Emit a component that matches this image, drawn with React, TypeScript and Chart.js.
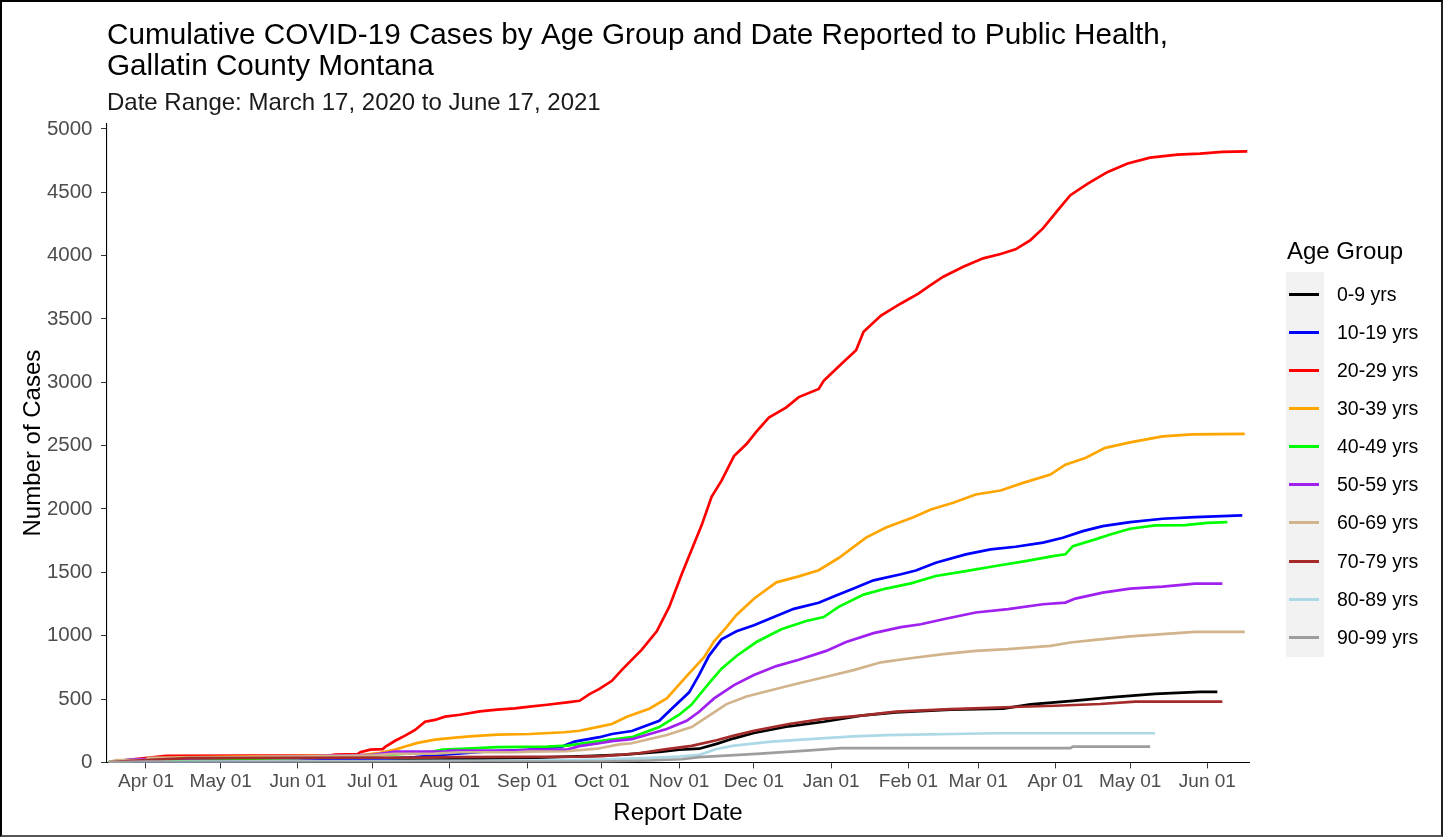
import React, { useEffect, useRef } from 'react';
import { Chart, registerables } from 'chart.js';

Chart.register(...registerables);

const FONT = '"Liberation Sans", Arial, Helvetica, sans-serif';

const TITLE_LINES = [
  'Cumulative COVID-19 Cases by Age Group and Date Reported to Public Health,',
  'Gallatin County Montana',
];
const SUBTITLE = 'Date Range: March 17, 2020 to June 17, 2021';
const X_TITLE = 'Report Date';
const Y_TITLE = 'Number of Cases';
const LEGEND_TITLE = 'Age Group';

const START_DATE = '2020-03-17';

const AGE_GROUPS = [
  '0-9 yrs', '10-19 yrs', '20-29 yrs', '30-39 yrs', '40-49 yrs',
  '50-59 yrs', '60-69 yrs', '70-79 yrs', '80-89 yrs', '90-99 yrs',
];
const COLORS = [
  '#000000', '#0000FF', '#FF0000', '#FFA500', '#00FF00',
  '#A020F0', '#D2B48C', '#A52A2A', '#ADD8E6', '#9E9E9E',
];

const X_TICK_DATES = [
  '2020-04-01', '2020-05-01', '2020-06-01', '2020-07-01', '2020-08-01',
  '2020-09-01', '2020-10-01', '2020-11-01', '2020-12-01', '2021-01-01',
  '2021-02-01', '2021-03-01', '2021-04-01', '2021-05-01', '2021-06-01',
];
const X_TICK_LABELS = [
  'Apr 01', 'May 01', 'Jun 01', 'Jul 01', 'Aug 01', 'Sep 01', 'Oct 01',
  'Nov 01', 'Dec 01', 'Jan 01', 'Feb 01', 'Mar 01', 'Apr 01', 'May 01', 'Jun 01',
];
const Y_TICKS = [0, 500, 1000, 1500, 2000, 2500, 3000, 3500, 4000, 4500, 5000];

type Pt = [string, number];

const AGE_0_9: Pt[] = [
  ['2020-03-17', 0], ['2020-04-15', 3], ['2020-05-15', 6], ['2020-07-01', 15], ['2020-08-01', 25],
  ['2020-09-01', 35], ['2020-09-25', 50], ['2020-10-10', 62], ['2020-10-25', 85], ['2020-11-01', 100],
  ['2020-11-09', 108], ['2020-11-16', 146], ['2020-11-23', 190], ['2020-12-01', 232], ['2020-12-15', 285],
  ['2020-12-29', 321], ['2021-01-13', 369], ['2021-01-27', 395], ['2021-02-18', 416], ['2021-03-11', 425],
  ['2021-03-22', 458], ['2021-04-08', 485], ['2021-04-23', 513], ['2021-05-11', 541], ['2021-05-29', 557],
  ['2021-06-05', 557],
];

const AGE_10_19: Pt[] = [
  ['2020-03-17', 0], ['2020-04-01', 3], ['2020-05-01', 8], ['2020-06-01', 12], ['2020-07-01', 25],
  ['2020-07-18', 42], ['2020-08-01', 65], ['2020-08-15', 85], ['2020-09-01', 100], ['2020-09-15', 125],
  ['2020-09-20', 164], ['2020-09-30', 199], ['2020-10-05', 224], ['2020-10-13', 248], ['2020-10-24', 328],
  ['2020-10-29', 424], ['2020-11-05', 553], ['2020-11-09', 690], ['2020-11-13', 843], ['2020-11-18', 971],
  ['2020-11-24', 1035], ['2020-12-01', 1083], ['2020-12-09', 1147], ['2020-12-17', 1212], ['2020-12-27', 1260],
  ['2021-01-02', 1309], ['2021-01-10', 1372], ['2021-01-18', 1437], ['2021-01-29', 1485], ['2021-02-04', 1515],
  ['2021-02-12', 1576], ['2021-02-24', 1642], ['2021-03-06', 1681], ['2021-03-16', 1702], ['2021-03-27', 1734],
  ['2021-04-04', 1773], ['2021-04-12', 1825], ['2021-04-20', 1865], ['2021-05-01', 1896], ['2021-05-14', 1923],
  ['2021-05-27', 1935], ['2021-06-15', 1949],
];

const AGE_20_29: Pt[] = [
  ['2020-03-17', 0], ['2020-03-27', 25], ['2020-04-09', 52], ['2020-06-14', 55], ['2020-06-16', 62],
  ['2020-06-25', 65], ['2020-06-26', 80], ['2020-06-30', 101], ['2020-07-05', 105], ['2020-07-06', 122],
  ['2020-07-10', 171], ['2020-07-14', 211], ['2020-07-18', 256], ['2020-07-22', 321], ['2020-07-26', 335],
  ['2020-07-30', 361], ['2020-08-05', 376], ['2020-08-13', 403], ['2020-08-20', 416], ['2020-08-27', 427],
  ['2020-09-02', 440], ['2020-09-09', 455], ['2020-09-17', 474], ['2020-09-22', 486], ['2020-09-26', 539],
  ['2020-09-30', 580], ['2020-10-05', 644], ['2020-10-09', 730], ['2020-10-17', 890], ['2020-10-23', 1035],
  ['2020-10-28', 1227], ['2020-11-02', 1485], ['2020-11-06', 1678], ['2020-11-10', 1871], ['2020-11-14', 2096],
  ['2020-11-18', 2224], ['2020-11-23', 2417], ['2020-11-28', 2513], ['2020-12-02', 2610], ['2020-12-07', 2722],
  ['2020-12-14', 2802], ['2020-12-19', 2883], ['2020-12-27', 2947], ['2020-12-29', 3011], ['2021-01-04', 3124],
  ['2021-01-11', 3253], ['2021-01-14', 3398], ['2021-01-21', 3526], ['2021-01-29', 3622], ['2021-02-05', 3700],
  ['2021-02-09', 3755], ['2021-02-15', 3833], ['2021-02-23', 3912], ['2021-03-03', 3978], ['2021-03-10', 4012],
  ['2021-03-16', 4049], ['2021-03-22', 4122], ['2021-03-27', 4214], ['2021-04-02', 4358], ['2021-04-07', 4476],
  ['2021-04-14', 4568], ['2021-04-22', 4660], ['2021-04-30', 4726], ['2021-05-09', 4773], ['2021-05-20', 4797],
  ['2021-05-29', 4805], ['2021-06-07', 4818], ['2021-06-17', 4822],
];

const AGE_30_39: Pt[] = [
  ['2020-03-17', 0], ['2020-04-01', 20], ['2020-04-15', 40], ['2020-06-01', 50], ['2020-06-25', 54],
  ['2020-07-04', 75], ['2020-07-10', 101], ['2020-07-14', 125], ['2020-07-19', 154], ['2020-07-26', 180],
  ['2020-08-02', 193], ['2020-08-09', 206], ['2020-08-20', 219], ['2020-09-02', 224], ['2020-09-16', 238],
  ['2020-09-22', 250], ['2020-09-30', 282], ['2020-10-05', 303], ['2020-10-11', 360], ['2020-10-20', 424],
  ['2020-10-27', 505], ['2020-11-04', 681], ['2020-11-11', 830], ['2020-11-15', 955], ['2020-11-20', 1067],
  ['2020-11-24', 1164], ['2020-12-01', 1292], ['2020-12-10', 1421], ['2020-12-19', 1468], ['2020-12-27', 1517],
  ['2021-01-04', 1613], ['2021-01-15', 1774], ['2021-01-23', 1854], ['2021-02-03', 1935], ['2021-02-10', 1996],
  ['2021-02-19', 2049], ['2021-02-28', 2114], ['2021-03-10', 2146], ['2021-03-19', 2206], ['2021-03-30', 2272],
  ['2021-04-05', 2350], ['2021-04-13', 2403], ['2021-04-21', 2482], ['2021-05-01', 2526], ['2021-05-14', 2573],
  ['2021-05-26', 2589], ['2021-06-16', 2592],
];

const AGE_40_49: Pt[] = [
  ['2020-03-17', 5], ['2020-03-20', 8], ['2020-04-01', 15], ['2020-06-01', 35], ['2020-06-27', 53],
  ['2020-07-10', 63], ['2020-07-25', 85], ['2020-07-29', 101], ['2020-08-10', 110], ['2020-08-20', 120],
  ['2020-09-09', 125], ['2020-09-17', 132], ['2020-09-30', 168], ['2020-10-13', 199], ['2020-10-24', 279],
  ['2020-11-01', 376], ['2020-11-06', 457], ['2020-11-09', 530], ['2020-11-13', 625], ['2020-11-18', 740],
  ['2020-11-24', 840], ['2020-12-02', 950], ['2020-12-12', 1051], ['2020-12-22', 1116], ['2020-12-29', 1147],
  ['2021-01-04', 1228], ['2021-01-14', 1324], ['2021-01-23', 1372], ['2021-02-02', 1413], ['2021-02-12', 1471],
  ['2021-02-24', 1510], ['2021-03-08', 1550], ['2021-03-20', 1589], ['2021-03-31', 1628], ['2021-04-05', 1642],
  ['2021-04-08', 1707], ['2021-04-17', 1760], ['2021-04-23', 1799], ['2021-05-01', 1844], ['2021-05-11', 1870],
  ['2021-05-23', 1873], ['2021-06-01', 1891], ['2021-06-09', 1896],
];

const AGE_50_59: Pt[] = [
  ['2020-03-17', 0], ['2020-03-26', 24], ['2020-05-01', 35], ['2020-06-01', 45], ['2020-07-01', 60],
  ['2020-07-10', 85], ['2020-07-30', 85], ['2020-08-01', 93], ['2020-08-27', 93], ['2020-09-02', 101],
  ['2020-09-17', 101], ['2020-09-22', 128], ['2020-09-30', 151], ['2020-10-05', 168], ['2020-10-13', 183],
  ['2020-10-27', 264], ['2020-11-04', 328], ['2020-11-09', 400], ['2020-11-15', 505], ['2020-11-23', 610],
  ['2020-12-01', 690], ['2020-12-10', 760], ['2020-12-19', 810], ['2020-12-30', 880], ['2021-01-07', 950],
  ['2021-01-18', 1020], ['2021-01-29', 1067], ['2021-02-06', 1090], ['2021-02-15', 1130], ['2021-02-28', 1183],
  ['2021-03-13', 1209], ['2021-03-27', 1248], ['2021-04-05', 1261], ['2021-04-09', 1293], ['2021-04-20', 1340],
  ['2021-05-01', 1372], ['2021-05-14', 1387], ['2021-05-27', 1411], ['2021-06-07', 1411],
];

const AGE_60_69: Pt[] = [
  ['2020-03-17', 0], ['2020-03-20', 18], ['2020-04-01', 18], ['2020-04-02', 35], ['2020-06-01', 45],
  ['2020-07-01', 55], ['2020-07-10', 67], ['2020-07-26', 70], ['2020-08-05', 80], ['2020-08-27', 80],
  ['2020-09-02', 85], ['2020-09-17', 88], ['2020-09-29', 108], ['2020-10-08', 142], ['2020-10-13', 151],
  ['2020-10-27', 216], ['2020-11-06', 279], ['2020-11-13', 370], ['2020-11-20', 460], ['2020-11-28', 520],
  ['2020-12-09', 575], ['2020-12-19', 625], ['2020-12-30', 676], ['2021-01-10', 728], ['2021-01-21', 790],
  ['2021-02-01', 820], ['2021-02-15', 854], ['2021-02-28', 880], ['2021-03-13', 894], ['2021-03-30', 920],
  ['2021-04-07', 946], ['2021-04-17', 967], ['2021-05-01', 994], ['2021-05-14', 1012], ['2021-05-27', 1030],
  ['2021-06-16', 1030],
];

const AGE_70_79: Pt[] = [
  ['2020-03-17', 0], ['2020-03-26', 12], ['2020-04-18', 33], ['2020-07-20', 38], ['2020-08-01', 41],
  ['2020-09-22', 45], ['2020-10-01', 50], ['2020-10-15', 70], ['2020-10-27', 105], ['2020-11-06', 130],
  ['2020-11-16', 175], ['2020-11-23', 211], ['2020-12-01', 250], ['2020-12-15', 303], ['2020-12-29', 343],
  ['2021-01-13', 369], ['2021-01-27', 400], ['2021-02-18', 421], ['2021-03-18', 439], ['2021-04-01', 447],
  ['2021-04-19', 461], ['2021-05-03', 479], ['2021-06-07', 479],
];

const AGE_80_89: Pt[] = [
  ['2020-03-17', 0], ['2020-04-01', 5], ['2020-05-15', 8], ['2020-07-01', 10], ['2020-09-01', 15],
  ['2020-09-30', 23], ['2020-10-20', 35], ['2020-11-01', 45], ['2020-11-09', 59], ['2020-11-16', 106],
  ['2020-11-23', 132], ['2020-12-08', 164], ['2020-12-28', 190], ['2021-01-10', 206], ['2021-01-23', 216],
  ['2021-03-08', 230], ['2021-05-11', 230],
];

const AGE_90_99: Pt[] = [
  ['2020-03-17', 0], ['2020-04-15', 2], ['2020-07-01', 4], ['2020-09-30', 6], ['2020-10-20', 15],
  ['2020-11-02', 25], ['2020-11-09', 41], ['2020-12-02', 67], ['2020-12-22', 93], ['2021-01-05', 112],
  ['2021-04-07', 112], ['2021-04-08', 124], ['2021-05-09', 124],
];

const SERIES: Pt[][] = [
  AGE_0_9, AGE_10_19, AGE_20_29, AGE_30_39, AGE_40_49,
  AGE_50_59, AGE_60_69, AGE_70_79, AGE_80_89, AGE_90_99,
];

function dayIndex(s: string): number {
  const [y, m, d] = s.split('-').map(Number);
  const [y0, m0, d0] = START_DATE.split('-').map(Number);
  return (Date.UTC(y, m - 1, d) - Date.UTC(y0, m0 - 1, d0)) / 86400000;
}

// page-space layout of the frame, canvas and legend
const CANVAS_LEFT = 3;
const CANVAS_TOP = 3;
const CANVAS_W = 1436;
const CANVAS_H = 830;
const LEGEND_LEFT = 1286;
const LEGEND_KEY_TOP = 274.5;
const LEGEND_ROW = 38.15;

export default function App() {
  const canvasRef = useRef<HTMLCanvasElement | null>(null);

  useEffect(() => {
    const canvas = canvasRef.current;
    if (!canvas) return;
    Chart.defaults.font.family = FONT;

    const chart = new Chart(canvas, {
      type: 'line',
      data: {
        datasets: SERIES.map((s, i) => ({
          label: AGE_GROUPS[i],
          data: s.map(([d, v]) => ({ x: dayIndex(d), y: v })),
          borderColor: COLORS[i],
          backgroundColor: COLORS[i],
          borderWidth: 2.7,
          pointRadius: 0,
          pointHoverRadius: 0,
          tension: 0,
          fill: false,
          order: 10 - i,
        })),
      },
      options: {
        animation: false,
        responsive: true,
        maintainAspectRatio: false,
        events: [],
        layout: { padding: { left: 0, right: 190, top: 0, bottom: 0 } },
        plugins: {
          legend: { display: false },
          tooltip: { enabled: false },
          title: {
            display: true,
            text: TITLE_LINES,
            align: 'start',
            fullSize: false,
            color: '#000000',
            font: { size: 29.7, weight: 'normal', lineHeight: 1.03, family: FONT },
            padding: { top: 17.5, bottom: 3 },
          },
          subtitle: {
            display: true,
            text: SUBTITLE,
            align: 'start',
            fullSize: false,
            color: '#1A1A1A',
            font: { size: 24, weight: 'normal', lineHeight: 1.2, family: FONT },
            padding: { top: 4, bottom: 6.3 },
          },
        },
        scales: {
          x: {
            type: 'linear',
            min: -0.65,
            max: 457.7,
            afterBuildTicks: (axis: any) => {
              axis.ticks = X_TICK_DATES.map((d) => ({ value: dayIndex(d) }));
            },
            ticks: {
              autoSkip: false,
              maxRotation: 0,
              minRotation: 0,
              color: '#4D4D4D',
              font: { size: 19, family: FONT },
              padding: 1.5,
              callback: (v: any) => {
                const idx = X_TICK_DATES.findIndex((d) => dayIndex(d) === Number(v));
                return idx >= 0 ? X_TICK_LABELS[idx] : '';
              },
            },
            grid: {
              display: true,
              drawOnChartArea: false,
              drawTicks: true,
              tickLength: 6,
              tickColor: '#333333',
              color: '#333333',
              lineWidth: 1,
            },
            border: { display: true, color: '#000000', width: 1.1 },
            title: {
              display: true,
              text: X_TITLE,
              color: '#000000',
              font: { size: 24, family: FONT },
              padding: { top: 5.2, bottom: 4.8 },
            },
          },
          y: {
            type: 'linear',
            min: 0,
            max: 5040,
            afterBuildTicks: (axis: any) => {
              axis.ticks = Y_TICKS.map((v) => ({ value: v }));
            },
            afterFit: (scale: any) => {
              scale.width = 104;
            },
            ticks: {
              color: '#4D4D4D',
              font: { size: 20.5, family: FONT },
              padding: 8.5,
              callback: (v: any) => String(v),
            },
            grid: {
              display: true,
              drawOnChartArea: false,
              drawTicks: true,
              tickLength: 6,
              tickColor: '#333333',
              color: '#333333',
              lineWidth: 1,
            },
            border: { display: true, color: '#000000', width: 1.1 },
            title: {
              display: true,
              text: Y_TITLE,
              color: '#000000',
              font: { size: 24, family: FONT },
              padding: { top: 15.5, bottom: 0 },
            },
          },
        },
      } as any,
    });

    return () => {
      chart.destroy();
    };
  }, []);

  return (
    <div style={{ position: 'absolute', left: 0, top: 0, width: 1447, height: 838, background: '#FFFFFF', fontFamily: FONT }}>
      <div
        style={{
          position: 'absolute',
          left: 0,
          top: 0,
          width: 1443,
          height: 837,
          boxSizing: 'border-box',
          borderLeft: '2px solid #000',
          borderTop: '2px solid #000',
          borderRight: '2px solid #222',
          borderBottom: '2px solid #555',
        }}
      />
      <div style={{ position: 'absolute', left: CANVAS_LEFT, top: CANVAS_TOP, width: CANVAS_W, height: CANVAS_H }}>
        <canvas ref={canvasRef} />
      </div>
      <div
        style={{
          position: 'absolute',
          left: LEGEND_LEFT + 1,
          top: 236,
          fontSize: 24,
          lineHeight: '29px',
          color: '#000',
          whiteSpace: 'nowrap',
        }}
      >
        {LEGEND_TITLE}
      </div>
      <div
        style={{
          position: 'absolute',
          left: LEGEND_LEFT,
          top: 272,
          width: 38,
          height: 385,
          background: '#F2F2F2',
        }}
      />
      {AGE_GROUPS.map((g, i) => {
        const cy = Math.round(LEGEND_KEY_TOP + LEGEND_ROW * i + LEGEND_ROW / 2);
        return (
          <React.Fragment key={g}>
            <div
              style={{
                position: 'absolute',
                left: LEGEND_LEFT + 3,
                top: cy - 1,
                width: 30,
                height: 3,
                background: COLORS[i],
              }}
            />
            <div
              style={{
                position: 'absolute',
                left: 1337,
                top: cy - 12,
                fontSize: 19.5,
                lineHeight: '24px',
                color: '#000',
                whiteSpace: 'nowrap',
              }}
            >
              {g}
            </div>
          </React.Fragment>
        );
      })}
    </div>
  );
}
